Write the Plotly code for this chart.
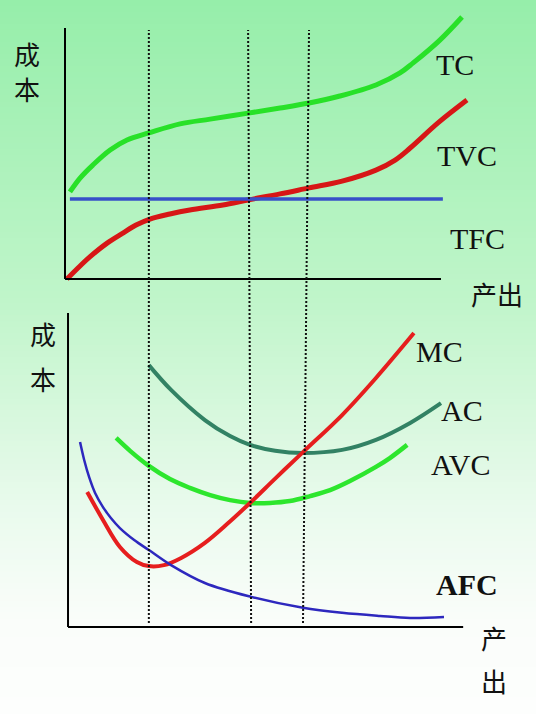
import plotly.graph_objects as go
from plotly.subplots import make_subplots

# Gráfico superior: costes totales (producción q, coste c)
q_tc = [0.13, 0.40, 0.74, 1.20, 1.65, 2.23, 3.06, 3.86, 4.87, 5.72, 6.49, 7.31, 8.27, 8.91, 9.26, 9.97, 10.56]
tc = [3.47, 4.02, 4.54, 5.14, 5.54, 5.82, 6.18, 6.37, 6.61, 6.81, 7.01, 7.29, 7.73, 8.21, 8.61, 9.52, 10.44]

q_tvc = [0.05, 0.40, 0.66, 1.12, 1.54, 1.89, 2.26, 2.79, 3.32, 4.20, 4.87, 5.72, 6.49, 7.37, 8.27, 8.78, 9.18, 9.92, 10.69]
tvc = [0.0, 0.52, 0.88, 1.43, 1.83, 2.15, 2.39, 2.59, 2.75, 2.95, 3.15, 3.39, 3.63, 3.90, 4.34, 4.74, 5.22, 6.22, 7.13]

q_tfc = [0.13, 10.05]
tfc = [3.19, 3.19]

# Gráfico inferior: costes medios y marginal
q_ac = [2.23, 2.82, 3.72, 4.39, 4.92, 5.59, 6.33, 7.37, 8.27, 9.18, 10.0]
ac = [8.34, 7.55, 6.59, 6.08, 5.80, 5.61, 5.54, 5.64, 5.96, 6.50, 7.13]

q_avc = [1.36, 1.73, 2.23, 2.79, 3.32, 3.86, 4.39, 4.92, 5.45, 5.98, 6.52, 7.05, 7.58, 8.27, 8.64, 9.10]
avc = [6.02, 5.61, 5.13, 4.71, 4.43, 4.20, 4.04, 3.95, 3.95, 4.01, 4.17, 4.36, 4.65, 5.10, 5.38, 5.80]

q_mc = [0.59, 1.01, 1.46, 1.91, 2.23, 2.63, 3.09, 3.72, 4.34, 4.92, 5.61, 6.33, 7.37, 8.27, 9.28]
mc = [4.30, 3.41, 2.55, 2.07, 1.94, 1.97, 2.20, 2.68, 3.31, 3.95, 4.75, 5.57, 6.75, 7.93, 9.36]

q_afc = [0.40, 0.51, 0.64, 0.80, 1.01, 1.22, 1.46, 1.84, 2.23, 2.82, 3.72, 4.95, 6.33, 7.37, 8.38, 9.18, 10.08]
afc = [5.89, 5.32, 4.78, 4.27, 3.82, 3.47, 3.15, 2.77, 2.45, 1.97, 1.40, 0.96, 0.61, 0.45, 0.35, 0.29, 0.32]

# líneas punteadas (q arriba / q abajo)
q_guias_sup = [2.23, 4.87, 6.49]
q_guias_inf = [2.23, 4.95, 6.33]

SERIF = "Liberation Serif, Times New Roman, serif"
CJK = "Noto Sans CJK SC"

fig = make_subplots(rows=2, cols=1)

fig.add_trace(go.Scatter(x=q_tc, y=tc, mode='lines', line=dict(color='rgb(40,225,40)', width=5, shape='spline'), name='TC'), row=1, col=1)
fig.add_trace(go.Scatter(x=q_tvc, y=tvc, mode='lines', line=dict(color='rgb(215,22,22)', width=5, shape='spline'), name='TVC'), row=1, col=1)
fig.add_trace(go.Scatter(x=q_tfc, y=tfc, mode='lines', line=dict(color='rgb(55,80,200)', width=3.5), name='TFC'), row=1, col=1)

fig.add_trace(go.Scatter(x=q_ac, y=ac, mode='lines', line=dict(color='rgb(50,130,100)', width=4, shape='spline'), name='AC'), row=2, col=1)
fig.add_trace(go.Scatter(x=q_avc, y=avc, mode='lines', line=dict(color='rgb(45,230,45)', width=4.5, shape='spline'), name='AVC'), row=2, col=1)
fig.add_trace(go.Scatter(x=q_mc, y=mc, mode='lines', line=dict(color='rgb(230,30,30)', width=4, shape='spline'), name='MC'), row=2, col=1)
fig.add_trace(go.Scatter(x=q_afc, y=afc, mode='lines', line=dict(color='rgb(45,40,190)', width=2.5, shape='spline'), name='AFC'), row=2, col=1)

# fondo degradado verde -> blanco
stops = [(0.0, (150, 238, 170)), (0.42, (192, 245, 202)), (0.70, (232, 250, 236)),
         (0.87, (250, 253, 250)), (1.0, (253, 254, 253))]


def color_fondo(t):
    for (t0, c0), (t1, c1) in zip(stops[:-1], stops[1:]):
        if t <= t1:
            f = (t - t0) / (t1 - t0)
            return 'rgb(%d,%d,%d)' % tuple(round(a + (b - a) * f) for a, b in zip(c0, c1))
    return 'rgb(%d,%d,%d)' % stops[-1][1]


n = 120
for i in range(n):
    fig.add_shape(type='rect', xref='paper', yref='paper', x0=0, x1=1,
                  y0=1 - (i + 1) / n - 0.002, y1=1 - i / n,
                  fillcolor=color_fondo((i + 0.5) / n), line_width=0, layer='below')

# ejes dibujados
eje = dict(color='black', width=2)
fig.add_shape(type='line', xref='x', yref='y', x0=0, y0=0, x1=0, y1=10, line=eje)
fig.add_shape(type='line', xref='x', yref='y', x0=0, y0=0, x1=10, y1=0, line=eje)
fig.add_shape(type='line', xref='x2', yref='y2', x0=0.08, y0=0, x1=0.08, y1=10, line=eje)
fig.add_shape(type='line', xref='x2', yref='y2', x0=0.08, y0=0, x1=10.59, y1=0, line=eje)

for qs, qi in zip(q_guias_sup, q_guias_inf):
    fig.add_shape(type='line', xref='x', yref='paper', x0=qi, y0=1 - 623 / 714, x1=qs, y1=1 - 30 / 714,
                  line=dict(color='#111111', width=2, dash='2px,2px'))

# etiquetas
def etiqueta(texto, x, y, ejes, fuente, size):
    fig.add_annotation(text=texto, x=x, y=y, xref='x' + ejes, yref='y' + ejes, showarrow=False,
                       font=dict(family=fuente, size=size, color='#111111'))


etiqueta('TC', 10.37, 8.53, '', SERIF, 30)
etiqueta('TVC', 10.69, 4.94, '', SERIF, 30)
etiqueta('TFC', 10.96, 1.63, '', SERIF, 30)
etiqueta('产出', 11.49, -0.56, '', CJK, 26)
etiqueta('成', -1.01, 9.00, '', CJK, 26)
etiqueta('本', -1.01, 7.61, '', CJK, 26)

etiqueta('MC', 9.97, 8.76, '2', SERIF, 30)
etiqueta('AC', 10.56, 6.91, '2', SERIF, 30)
etiqueta('AVC', 10.53, 5.16, '2', SERIF, 30)
etiqueta('<b>AFC</b>', 10.69, 1.34, '2', SERIF, 30)
etiqueta('成', -0.59, 9.36, '2', CJK, 26)
etiqueta('本', -0.59, 7.93, '2', CJK, 26)
etiqueta('产', 11.41, -0.32, '2', CJK, 26)
etiqueta('出', 11.41, -1.69, '2', CJK, 26)

oculto = dict(showgrid=False, zeroline=False, showticklabels=False, ticks='', showline=False)
fig.update_xaxes(oculto)
fig.update_yaxes(oculto)
fig.update_xaxes(domain=[0, 1], range=[-1.729, 12.527], row=1, col=1)
fig.update_yaxes(domain=[1 - 296 / 714, 1], range=[-0.677, 11.116], row=1, col=1)
fig.update_xaxes(domain=[0, 1], range=[-1.729, 12.527], row=2, col=1)
fig.update_yaxes(domain=[0, 1 - 300 / 714], range=[-2.771, 10.414], row=2, col=1)

fig.update_layout(
    width=536,
    height=714,
    margin=dict(l=0, r=0, t=0, b=0),
    showlegend=False,
    paper_bgcolor='white',
    plot_bgcolor='rgba(0,0,0,0)',
)

fig.write_html("out.html", config={'displayModeBar': False},
               post_script="document.body.style.margin='0';document.body.style.overflow='hidden';")
